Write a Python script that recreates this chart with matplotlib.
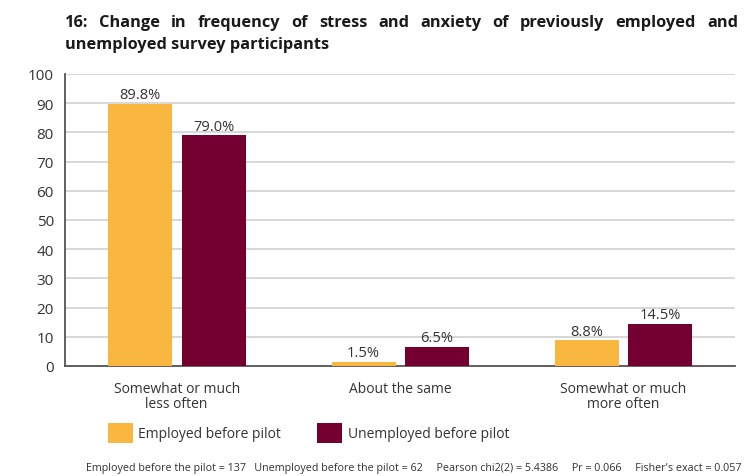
import matplotlib.pyplot as plt
import numpy as np

plt.rcParams['font.family'] = ['Open Sans', 'DejaVu Sans']

categories = ["Somewhat or much\nless often", "About the same", "Somewhat or much\nmore often"]
employed = [89.8, 1.5, 8.8]
unemployed = [79.0, 6.5, 14.5]
series_names = ["Employed before pilot", "Unemployed before pilot"]
colors = ["#F9B73F", "#730030"]
title_line1 = "16: Change in frequency of stress and anxiety of previously employed and"
title_line2 = "unemployed survey participants"
footnote = ("Employed before the pilot = 137   Unemployed before the pilot = 62     "
            "Pearson chi2(2) = 5.4386     Pr = 0.066     Fisher's exact = 0.057")

fig = plt.figure(figsize=(7.44, 4.77), dpi=100)
ax = fig.add_axes([65 / 744, 1 - 367 / 477, 670 / 744, 292 / 477])

x = np.arange(len(categories))
w = 0.287
b1 = ax.bar(x - 0.163, employed, w, color=colors[0], label=series_names[0], zorder=3)
b2 = ax.bar(x + 0.166, unemployed, w, color=colors[1], label=series_names[1], zorder=3)

for bars, vals in [(b1, employed), (b2, unemployed)]:
    for r, v in zip(bars, vals):
        ax.text(r.get_x() + r.get_width() / 2, v + 0.6, f"{v:.1f}%",
                ha='center', va='bottom', fontsize=10.5, color='#333333', zorder=4)

ax.set_xlim(-0.5, 2.5)
ax.set_ylim(0, 100)
ax.set_yticks(range(0, 101, 10))
ax.yaxis.grid(True, color='#d4d4d4', linewidth=1.3, zorder=0)
ax.set_xticks(x)
ax.set_xticklabels(categories, fontsize=10, color='#333333', linespacing=0.95)
ax.tick_params(axis='x', length=0, pad=11)
ax.tick_params(axis='y', length=0, pad=8, labelsize=11, labelcolor='#333333')
for s in ['top', 'right']:
    ax.spines[s].set_visible(False)
for s in ['left', 'bottom']:
    ax.spines[s].set_color('#555555')
    ax.spines[s].set_linewidth(1.3)

fig.legend(handles=[b1, b2], loc='lower left', bbox_to_anchor=(95 / 744, 1 - 456 / 477),
           ncol=2, frameon=False, fontsize=10, handlelength=1.8, handleheight=1.8,
           columnspacing=2.6, handletextpad=0.4, labelcolor='#333333')

# title: first line justified between left of axes and right edge
renderer = fig.canvas.get_renderer()
words = title_line1.split(" ")
tkw = dict(fontsize=11.8, fontweight='bold', color='#1a1a1a', va='baseline', ha='left')
texts = [fig.text(0, 1 - 27 / 477, wd, **tkw) for wd in words]
widths = [t.get_window_extent(renderer).width for t in texts]
x0, x1 = 65, 738
gap = (x1 - x0 - sum(widths)) / (len(words) - 1)
pos = x0
for t, wd in zip(texts, widths):
    t.set_x(pos / 744)
    pos += wd + gap
fig.text(65 / 744, 1 - 49 / 477, title_line2, **tkw)

fig.text(741 / 744, 1 - 469 / 477, footnote, ha='right', va='center', fontsize=7.75, color='#333333')

fig.savefig("out.png", dpi=100)
